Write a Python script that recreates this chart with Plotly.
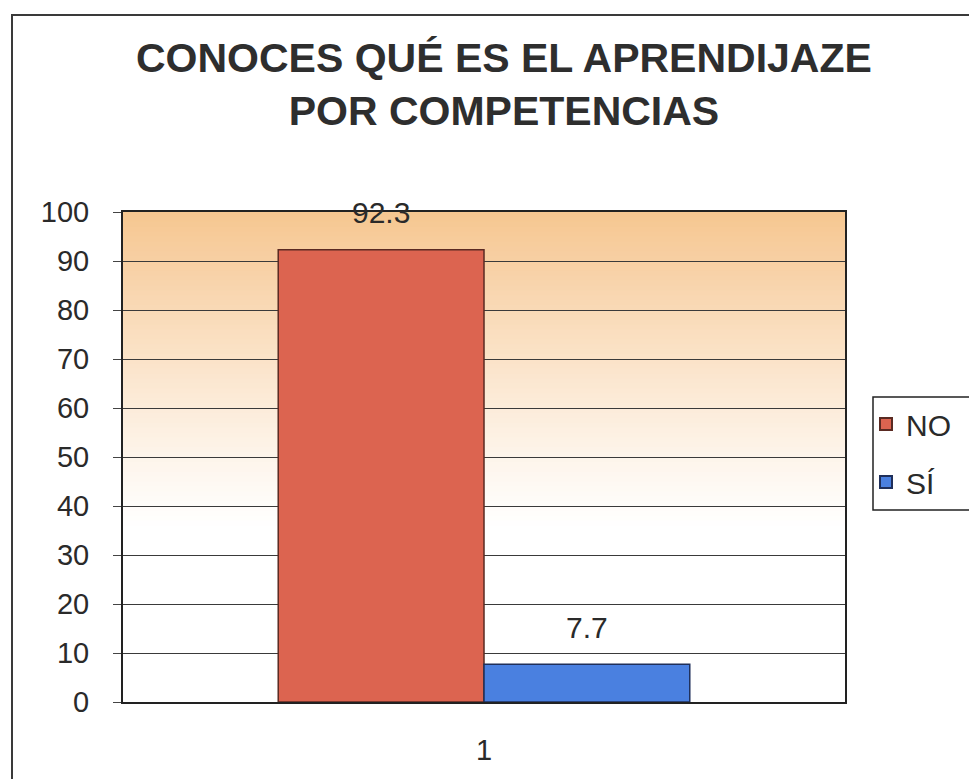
import plotly.graph_objects as go

categories = ["1"]
series_names = ["NO", "SÍ"]
values_no = [92.3]
values_si = [7.7]
y_ticks = [0, 10, 20, 30, 40, 50, 60, 70, 80, 90, 100]
title_text = "CONOCES QUÉ ES EL APRENDIJAZE<br>POR COMPETENCIAS"

FONT = "Liberation Sans, Arial, sans-serif"
BARGAP = 0.43
bar_w = (1 - BARGAP) / 2
L, R, T, B = 123, 124, 212, 77
PW, PH = 969 - L - R, 779 - T - B

fig = go.Figure()
fig.add_trace(go.Bar(name=series_names[0], x=categories, y=values_no, legendgroup="a",
                     marker=dict(color="#dc6450", line=dict(color="#5a2a22", width=1.5))))
fig.add_trace(go.Bar(name=series_names[1], x=categories, y=values_si, legendgroup="b",
                     marker=dict(color="#4a80e0", line=dict(color="#1f2f5a", width=1.5))))

# value labels above bars
for i, vals in enumerate([values_no, values_si]):
    xc = (i - 0.5) * bar_w
    fig.add_annotation(x=xc, y=vals[0], xref="x", yref="y", text=f"{vals[0]}",
                       showarrow=False, yanchor="middle", yshift=37,
                       font=dict(family=FONT, size=30, color="#2a2a2a"))

# title
fig.add_annotation(xref="paper", yref="paper", x=(504 - L) / PW, y=(PH + T - 84) / PH,
                   text=f"<b>{title_text}</b>", showarrow=False,
                   xanchor="center", yanchor="middle",
                   font=dict(family=FONT, size=41, color="#2e2e2e"))

# gradient background (below gridlines)
shapes = []
orange = (246, 198, 144)
for v in range(100):
    t = max(0.0, (v + 0.5 - 35) / 65)
    t = t ** 1.15
    r = round(255 + (orange[0] - 255) * t)
    g = round(255 + (orange[1] - 255) * t)
    b = round(255 + (orange[2] - 255) * t)
    shapes.append(dict(type="rect", xref="x domain", yref="y", x0=0, x1=1, y0=v, y1=min(v + 1.6, 100),
                       fillcolor=f"rgb({r},{g},{b})", line=dict(width=0), layer="below"))
# outer chart border
shapes.append(dict(type="rect", xref="paper", yref="paper",
                   x0=(12 - L) / PW, x1=1.4, y0=-0.5, y1=(PH + T - 15) / PH,
                   line=dict(color="#3a3a3a", width=2), fillcolor="rgba(0,0,0,0)", layer="below"))
# legend frame (runs off the right edge, as in the reference)
shapes.append(dict(type="rect", xref="paper", yref="paper",
                   x0=(873 - L) / PW, x1=1.3, y0=(PH + T - 510) / PH, y1=(PH + T - 397) / PH,
                   line=dict(color="#222", width=1.5), fillcolor="white", layer="below"))

fig.update_layout(
    width=969, height=779,
    margin=dict(l=L, r=R, t=T, b=B, autoexpand=False),
    paper_bgcolor="white", plot_bgcolor="white",
    barmode="group", bargap=BARGAP, bargroupgap=0,
    font=dict(family=FONT, size=29, color="#2a2a2a"),
    shapes=shapes,
    legend=dict(x=(866 - L) / PW, xanchor="left", y=(PH + T - 453) / PH, yanchor="middle",
                borderwidth=0, bgcolor="rgba(0,0,0,0)",
                font=dict(family=FONT, size=30, color="#2a2a2a"),
                traceorder="grouped", tracegroupgap=16, itemsizing="constant"),
    showlegend=True,
)
fig.update_yaxes(range=[0, 100], tickvals=y_ticks, showgrid=True, gridcolor="#3a3a3a", gridwidth=1,
                 showline=True, linecolor="#222", linewidth=2, mirror=True, automargin=False,
                 ticks="outside", ticklen=8, tickcolor="#444", ticklabelstandoff=18,
                 tickfont=dict(family=FONT, size=29, color="#2a2a2a"), zeroline=False)
fig.update_xaxes(showline=True, linecolor="#222", linewidth=2, mirror=True, automargin=False,
                 ticks="", ticklabelstandoff=21,
                 tickfont=dict(family=FONT, size=29, color="#2a2a2a"))

fig.write_html("out.html", config={"displayModeBar": False},
               post_script="document.body.style.margin='0';")
